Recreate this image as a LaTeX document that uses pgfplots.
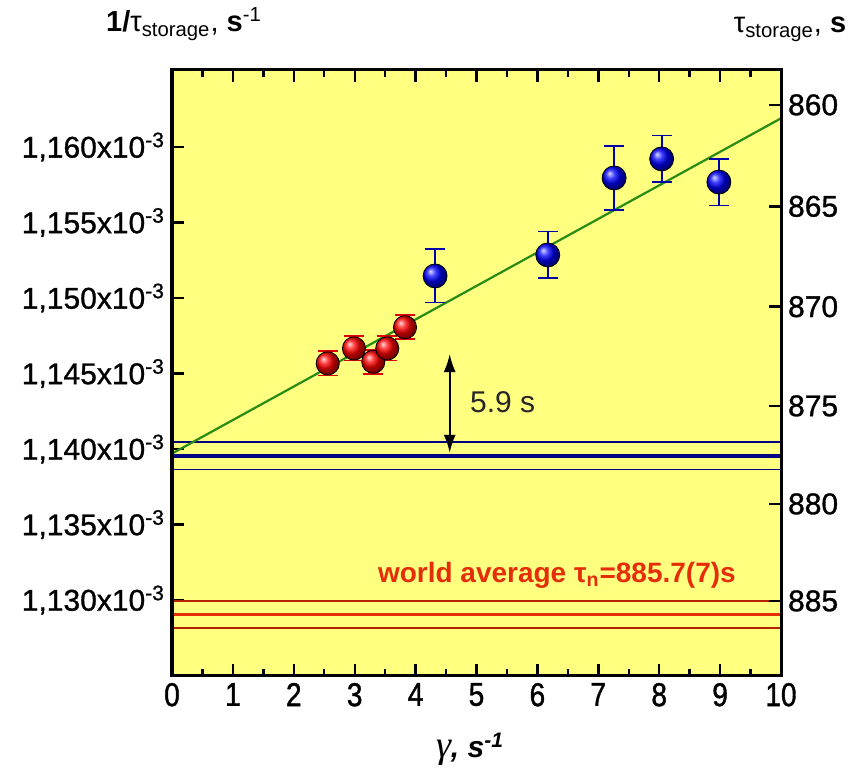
\documentclass[border=0pt]{standalone}
\usepackage{fontspec}
\setmainfont{Liberation Sans}
\newfontfamily\tickfont{Liberation Sans}[RawFeature={embolden=1.0}]
\newfontfamily\xtickfont{Liberation Sans}[RawFeature={embolden=1.2;extend=0.85}]
\newfontfamily\serifgreek{Liberation Serif}
\usepackage{pgfplots}
\pgfplotsset{compat=1.18}
\usetikzlibrary{plotmarks,arrows.meta}
\definecolor{bgyellow}{RGB}{255,255,128}
\definecolor{fitgreen}{RGB}{40,140,20}
\definecolor{navyline}{RGB}{0,0,130}
\definecolor{wred}{RGB}{230,45,10}
\definecolor{wredthin}{RGB}{180,35,0}
\definecolor{ballred}{RGB}{255,0,0}
\definecolor{ballblue}{RGB}{0,0,255}
\definecolor{errblue}{RGB}{0,0,170}
\definecolor{errred}{RGB}{225,0,0}
\begin{document}
\begin{tikzpicture}
\begin{axis}[
  at={(0,0)}, anchor=south west,
  scale only axis, width=304.5pt, height=303pt,
  xmin=0, xmax=10, ymin=1.12497, ymax=1.1651,
  axis background/.style={fill=bgyellow},
  axis line style={line width=1.5pt},
  tick align=inside,
  xtick={0,1,2,3,4,5,6,7,8,9,10}, minor x tick num=1,
  xtick pos=both, xticklabel pos=bottom,
  ytick={1.130,1.135,1.140,1.145,1.150,1.155,1.160},
  yticklabels={{1,130x10\textsuperscript{-3}},{1,135x10\textsuperscript{-3}},{1,140x10\textsuperscript{-3}},{1,145x10\textsuperscript{-3}},{1,150x10\textsuperscript{-3}},{1,155x10\textsuperscript{-3}},{1,160x10\textsuperscript{-3}}},
  ytick pos=left,
  major tick length=6pt, minor tick length=3.5pt,
  tick style={black, line width=1.2pt},
  yticklabel style={font=\tickfont\fontsize{15}{18}\selectfont},
  xticklabel style={font=\xtickfont\fontsize{16.5}{18}\selectfont},
  /pgf/number format/assume math mode=true,
]
% blue band (fit extrapolation)
\addplot[navyline, line width=0.8pt] coordinates {(0,1.14045) (10,1.14045)};
\addplot[navyline, line width=1.8pt] coordinates {(0,1.13955) (10,1.13955)};
\addplot[navyline, line width=0.8pt] coordinates {(0,1.13865) (10,1.13865)};
% world average band
\addplot[wredthin, line width=0.8pt] coordinates {(0,1.12994) (10,1.12994)};
\addplot[wred, line width=1.8pt] coordinates {(0,1.12905) (10,1.12905)};
\addplot[wredthin, line width=0.8pt] coordinates {(0,1.12816) (10,1.12816)};
% fit line
\addplot[fitgreen, line width=1.1pt] coordinates {(0,1.1397) (10,1.1619)};
% arrow
\addplot[black, line width=0.9pt, {Latex[length=9pt,width=6pt]}-{Latex[length=9pt,width=6pt]}] coordinates {(4.56,1.14629) (4.56,1.13975)};
% red points
\addplot[only marks, mark=ball, mark size=5.8pt, mark options={ball color=ballred},
  error bars/.cd, y dir=both, y explicit,
  error bar style={errred, line width=0.9pt},
  error mark options={rotate=90, mark size=5pt, errred, line width=0.9pt}]
  coordinates {
  (2.557,1.14567) +- (0,0.0008)
  (2.988,1.14666) +- (0,0.0008)
  (3.305,1.14578) +- (0,0.0008)
  (3.535,1.14666) +- (0,0.0008)
  (3.826,1.14806) +- (0,0.0008)
  };
% blue points
\addplot[only marks, mark=ball, mark size=6pt, mark options={ball color=ballblue},
  error bars/.cd, y dir=both, y explicit,
  error bar style={errblue, line width=0.9pt},
  error mark options={rotate=90, mark size=5pt, errblue, line width=0.9pt}]
  coordinates {
  (4.32,1.15146) +- (0,0.00176)
  (6.17,1.15285) +- (0,0.00155)
  (7.26,1.15795) +- (0,0.0021)
  (8.04,1.15921) +- (0,0.00155)
  (8.98,1.15768) +- (0,0.00155)
  };
\node[black!85, font=\fontsize{15}{18}\selectfont, anchor=west, inner sep=0pt] at (axis cs:4.89,1.14311) {5.9 s};
\node[wred, font=\bfseries\fontsize{14}{16}\selectfont] at (axis cs:6.32,1.13166) {world average τ\textsubscript{n}=885.7(7)s};
\end{axis}
\begin{axis}[
  at={(0,0)}, anchor=south west,
  scale only axis, width=304.5pt, height=303pt,
  xmin=0, xmax=10, ymin=1.12497, ymax=1.1651,
  axis line style={line width=1.5pt},
  tick align=inside,
  xtick=\empty,
  ytick={1.129944,1.136364,1.142857,1.149425,1.156069,1.162791},
  yticklabels={885,880,875,870,865,860},
  ytick pos=right, yticklabel pos=right,
  major tick length=6pt,
  tick style={black, line width=1.2pt},
  yticklabel style={font=\tickfont\fontsize{15}{18}\selectfont},
]
\addplot[draw=none] coordinates {(0,1.13) (10,1.16)};
\end{axis}
\node[anchor=base, font=\fontsize{14.5}{17}\selectfont] at (6pt,322pt) {\textbf{1/}τ\textsubscript{storage}, \textbf{s}\textsuperscript{-1}};
\node[anchor=base, font=\fontsize{14.5}{17}\selectfont] at (309pt,321.5pt) {τ\textsubscript{storage}, \textbf{s}};
\node[anchor=base, font=\bfseries\itshape\fontsize{15}{18}\selectfont] at (149pt,-41pt) {{\serifgreek\mdseries\fontsize{19}{20}\selectfont γ}, s\textsuperscript{-1}};
\pgfresetboundingbox
\useasboundingbox (-86pt,-49pt) rectangle (342.5pt,338pt);
\end{tikzpicture}
\end{document}
